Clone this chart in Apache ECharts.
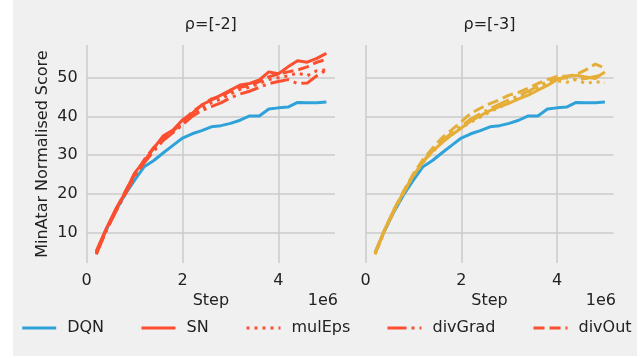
<!DOCTYPE html>
<html>
<head>
<meta charset="utf-8">
<script src="https://cdn.jsdelivr.net/npm/echarts@6/dist/echarts.min.js"></script>
<style>
html,body{margin:0;padding:0;background:#ffffff;}
#c{width:644px;height:358px;}
</style>
</head>
<body>
<div id="c"></div>
<script>
// Steps in units of 1e6
const steps = [0.2,0.4,0.6,0.8,1.0,1.2,1.4,1.6,1.8,2.0,2.2,2.4,2.6,2.8,3.0,3.2,3.4,3.6,3.8,4.0,4.2,4.4,4.6,4.8,5.0];
const xTicks = [0, 2, 4];
const yTicks = [10, 20, 30, 40, 50];
const panelTitles = ['ρ=[-2]', 'ρ=[-3]'];
const seriesNames = ['DQN', 'SN', 'mulEps', 'divGrad', 'divOut'];

const dqn = [4.8,10.5,15.5,19.8,23.5,27.0,28.6,30.6,32.5,34.4,35.5,36.3,37.3,37.6,38.2,39.0,40.1,40.1,41.9,42.2,42.4,43.6,43.5,43.5,43.7];

// panel rho=[-2]
const sn2      = [5.2,10.8,15.9,20.2,25.4,28.4,31.8,35.0,36.5,39.1,40.8,43.0,44.2,45.5,46.8,48.1,48.5,49.4,51.5,51.0,52.8,54.4,54.0,55.0,56.3];
const mulEps2  = [4.5,10.3,15.4,20.0,24.8,28.2,31.5,34.0,36.0,38.2,40.5,42.0,43.5,44.5,45.8,47.0,47.5,48.5,49.5,50.0,50.5,51.2,50.5,51.8,52.0];
const divGrad2 = [4.3,10.2,15.2,19.8,24.5,28.0,31.0,33.8,35.8,37.8,40.0,41.5,42.5,43.5,44.8,45.8,46.5,47.5,48.5,49.0,49.5,48.5,48.6,50.5,52.0];
const divOut2  = [4.8,10.5,15.6,20.5,25.0,28.8,32.0,34.2,36.2,38.5,41.2,42.8,44.5,45.2,46.5,47.5,48.0,49.0,50.2,51.0,51.5,52.0,52.8,54.0,54.7];

// panel rho=[-3]
const sn3      = [4.8,10.8,16.0,20.5,24.8,28.2,31.0,33.2,35.2,37.0,38.8,40.2,41.5,42.5,43.4,44.5,45.5,46.8,48.0,49.5,50.3,50.6,50.2,49.8,51.5];
const mulEps3  = [4.3,10.4,15.6,20.3,24.6,28.0,30.8,33.3,35.3,37.0,38.5,39.8,41.2,42.3,43.6,45.0,46.0,47.5,48.5,49.2,48.8,49.5,48.5,49.0,48.6];
const divGrad3 = [4.5,10.5,15.8,20.3,24.8,28.3,31.2,33.6,35.7,37.5,39.3,40.7,42.0,43.2,44.3,45.3,46.5,47.8,49.0,49.7,50.0,49.5,49.8,50.3,50.8];
const divOut3  = [4.5,10.6,16.0,20.8,25.2,28.8,31.8,34.5,36.5,38.6,40.8,42.1,43.3,44.3,45.5,46.2,47.3,48.5,49.5,50.3,50.4,50.8,52.0,53.5,52.5];

const BLUE = '#30a2da', RED = '#fc4f30', ORANGE = '#e5ae38';
const GRID = '#cbcbcb', TXT = '#222222';
const FONT = 'DejaVu Sans';
const LW = 3;
const dashStyles = {
  DQN: 'solid', SN: 'solid', mulEps: [3, 5], divGrad: [19, 5, 3, 5], divOut: [11, 5]
};

function pairs(ys){ return steps.map((s,i)=>[s, ys[i]]); }

const panelData = [
  {DQN: dqn, SN: sn2, mulEps: mulEps2, divGrad: divGrad2, divOut: divOut2, color: RED},
  {DQN: dqn, SN: sn3, mulEps: mulEps3, divGrad: divGrad3, divOut: divOut3, color: ORANGE}
];

const grids = [
  {left: 86.7, top: 45, width: 248.3, height: 218},
  {left: 365.5, top: 45, width: 248, height: 218}
];

function xAxis(i){
  return {
    type: 'value', gridIndex: i, min: 0, max: 5.18,
    axisLine: {show: false}, axisTick: {show: false, customValues: xTicks},
    axisLabel: {customValues: xTicks, color: TXT, fontFamily: FONT, fontSize: 16, margin: 10,
      formatter: v => String(v)},
    splitLine: {show: true, lineStyle: {color: GRID, width: 1.5}}
  };
}
function yAxis(i){
  return {
    type: 'value', gridIndex: i, min: 2.1, max: 58.45,
    axisLine: {show: false}, axisTick: {show: false, customValues: yTicks},
    axisLabel: {show: i === 0, customValues: yTicks, color: TXT, fontFamily: FONT, fontSize: 16, margin: 9},
    splitLine: {show: true, lineStyle: {color: GRID, width: 1.5}}
  };
}

const series = [];
panelData.forEach((p, pi) => {
  seriesNames.forEach(name => {
    series.push({
      type: 'line', name: name, xAxisIndex: pi, yAxisIndex: pi,
      data: pairs(p[name]), symbol: 'none', showSymbol: false, silent: true, animation: false,
      lineStyle: {color: name === 'DQN' ? BLUE : p.color, width: LW, type: dashStyles[name], cap: 'butt', join: 'round'},
      itemStyle: {color: name === 'DQN' ? BLUE : p.color}
    });
  });
});

const legendLefts = [20.7, 140, 245, 386, 532];
const legends = seriesNames.map((n, i) => ({
  data: [n], left: legendLefts[i], top: 320, orient: 'horizontal',
  itemWidth: 34, itemHeight: 14, padding: 0, selectedMode: false,
  itemStyle: {opacity: 0},
  lineStyle: {width: LW, type: 'inherit'},
  textStyle: {color: TXT, fontFamily: FONT, fontSize: 16, padding: [0, 0, 0, 6]}
}));

const titles = panelTitles.map((t, i) => ({
  text: t, left: grids[i].left + grids[i].width / 2, textAlign: 'center', top: 17, padding: 0,
  textStyle: {color: TXT, fontFamily: FONT, fontSize: 16, fontWeight: 'normal'}
}));

const chart = echarts.init(document.getElementById('c'), null, {renderer: 'canvas'});
chart.setOption({
  backgroundColor: '#ffffff',
  animation: false,
  title: titles,
  grid: grids,
  xAxis: [xAxis(0), xAxis(1)],
  yAxis: [yAxis(0), yAxis(1)],
  legend: legends,
  series: series,
  graphic: [
    {type: 'rect', z: -10, silent: true, shape: {x: 13, y: 0, width: 624, height: 356}, style: {fill: '#f0f0f0'}},
    {type: 'text', x: 42.5, y: 154, rotation: Math.PI / 2, style: {text: 'MinAtar Normalised Score', align: 'center', verticalAlign: 'middle', fill: TXT, font: '16px "DejaVu Sans"'}},
    {type: 'text', x: grids[0].left + grids[0].width / 2, y: 301, style: {text: 'Step', align: 'center', verticalAlign: 'middle', fill: TXT, font: '16px "DejaVu Sans"'}},
    {type: 'text', x: grids[1].left + grids[1].width / 2, y: 301, style: {text: 'Step', align: 'center', verticalAlign: 'middle', fill: TXT, font: '16px "DejaVu Sans"'}},
    {type: 'text', x: 338, y: 301, style: {text: '1e6', align: 'right', verticalAlign: 'middle', fill: TXT, font: '16px "DejaVu Sans"'}},
    {type: 'text', x: 616, y: 301, style: {text: '1e6', align: 'right', verticalAlign: 'middle', fill: TXT, font: '16px "DejaVu Sans"'}}
  ]
});
</script>
</body>
</html>
